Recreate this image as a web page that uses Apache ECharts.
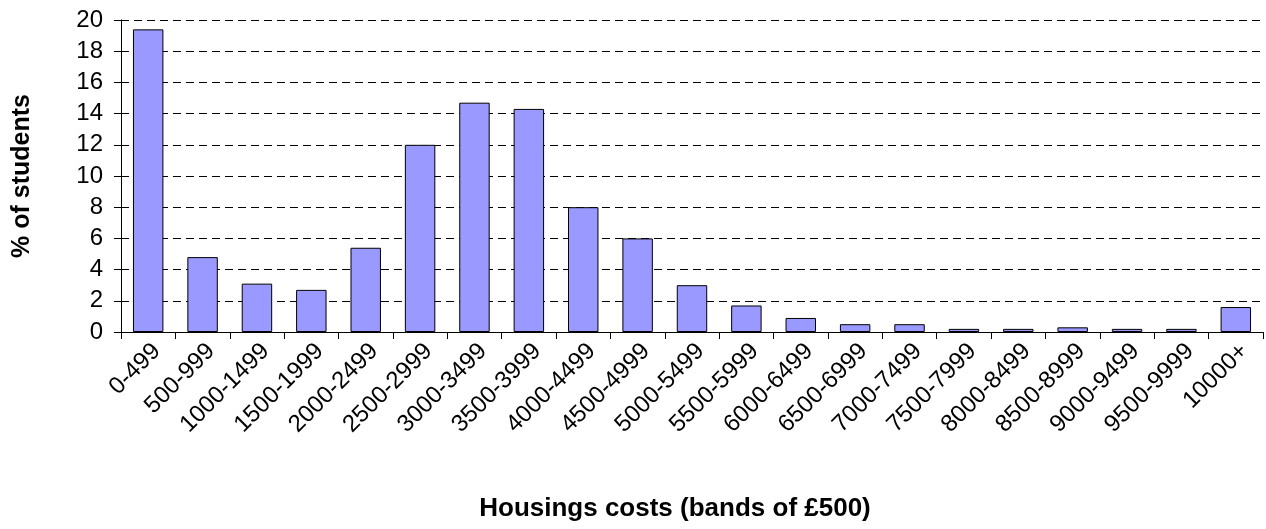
<!DOCTYPE html>
<html>
<head>
<meta charset="utf-8">
<script src="https://cdn.jsdelivr.net/npm/echarts@6/dist/echarts.min.js"></script>
<style>
html,body{margin:0;padding:0;background:#fff;}
#chart{width:1266px;height:529px;}
</style>
</head>
<body>
<div id="chart"></div>
<script>
const categories = ["0-499","500-999","1000-1499","1500-1999","2000-2499","2500-2999","3000-3499","3500-3999","4000-4499","4500-4999","5000-5499","5500-5999","6000-6499","6500-6999","7000-7499","7500-7999","8000-8499","8500-8999","9000-9499","9500-9999","10000+"];
const percentStudents = [19.4,4.8,3.1,2.7,5.4,12.0,14.7,14.3,8.0,6.0,3.0,1.7,0.9,0.5,0.5,0.2,0.2,0.3,0.2,0.2,1.6];
const xTitle = "Housings costs (bands of £500)";
const yTitle = "% of students";

const font = "'Liberation Sans', Arial, sans-serif";
const chart = echarts.init(document.getElementById('chart'), null, {renderer:'canvas'});
chart.setOption({
  animation:false,
  backgroundColor:'#ffffff',
  grid:{left:121,right:3,top:20,bottom:197,containLabel:false},
  xAxis:{
    type:'category',
    data:categories,
    name:xTitle,
    nameLocation:'middle',
    nameGap:164,
    nameTextStyle:{fontFamily:font,fontSize:26,fontWeight:'bold',color:'#000',padding:[0,34,0,0]},
    axisLine:{lineStyle:{color:'#000',width:1}},
    axisTick:{show:true,length:7,alignWithLabel:false,lineStyle:{color:'#000'}},
    axisLabel:{rotate:45,interval:0,margin:7,verticalAlign:'top',fontFamily:font,fontSize:24,color:'#000'},
    splitLine:{show:false}
  },
  yAxis:{
    type:'value',
    min:0,max:20,interval:2,
    name:yTitle,
    nameLocation:'middle',
    nameGap:86,
    nameRotate:90,
    nameTextStyle:{fontFamily:font,fontSize:25,fontWeight:'bold',color:'#000'},
    axisLine:{show:true,lineStyle:{color:'#000',width:1}},
    axisTick:{show:true,length:7,lineStyle:{color:'#000'}},
    axisLabel:{margin:18,fontFamily:font,fontSize:24,color:'#000'},
    splitLine:{show:true,lineStyle:{color:'#000',width:1,type:[8,5]}}
  },
  series:[{
    type:'bar',
    data:percentStudents,
    barWidth:'56%',
    itemStyle:{color:'#9999FF',borderColor:'#000',borderWidth:1}
  }]
});
</script>
</body>
</html>
